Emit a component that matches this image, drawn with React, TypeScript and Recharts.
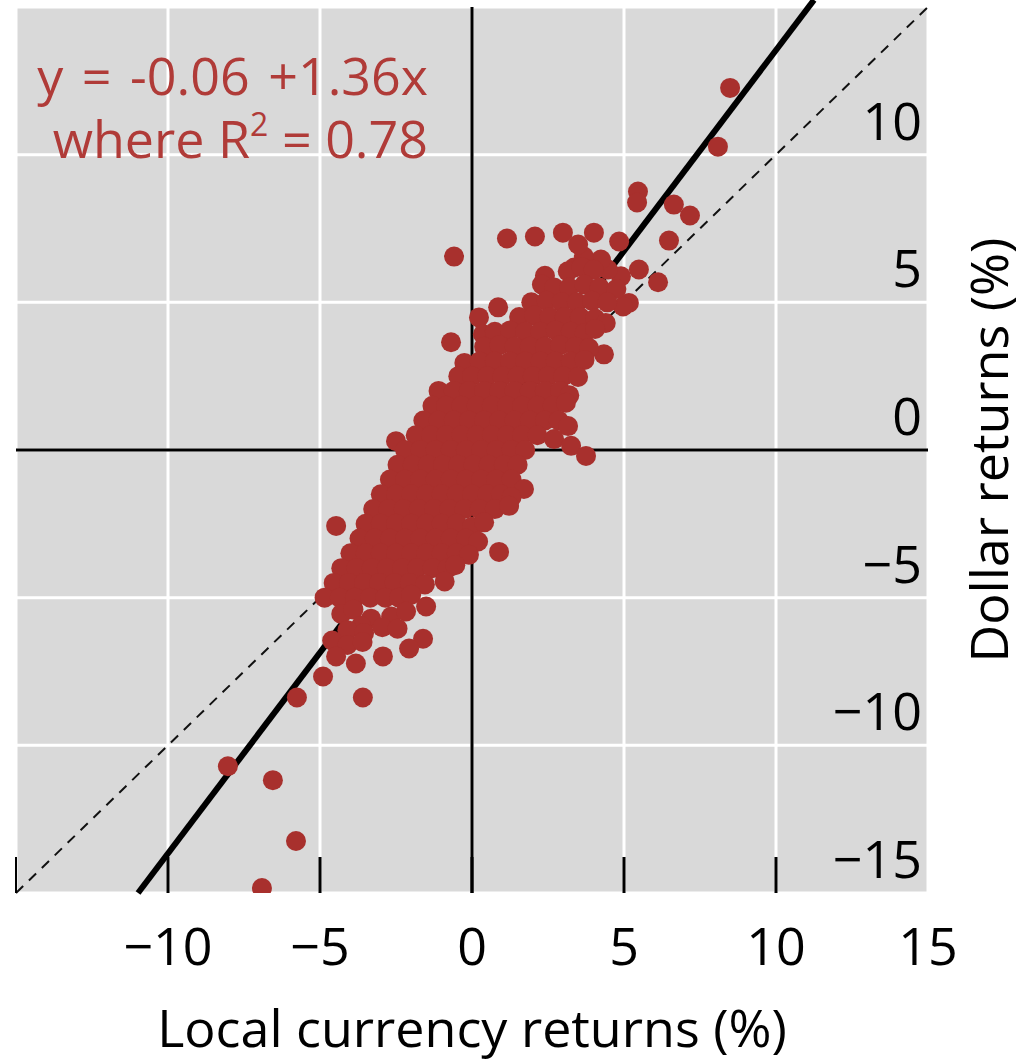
import { ScatterChart, Scatter, XAxis, YAxis, CartesianGrid, ReferenceLine } from "recharts";

// monthly returns: [local currency %, dollar %]
const upperTail: [number, number][] = [
  [8.49, 12.26], [8.09, 10.27], [5.46, 8.75], [5.43, 8.38], [6.64, 8.31], [7.17, 7.94],
  [6.48, 7.09], [6.12, 5.68], [5.16, 4.98], [4.97, 4.86], [5.49, 6.11], [4.9, 5.88],
  [4.47, 6.11], [4.24, 6.45], [3.68, 6.55], [3.36, 6.18], [3.91, 6.11], [4.84, 7.06],
  [4.01, 7.36], [3.49, 6.96], [2.99, 7.36], [2.07, 7.23], [1.15, 7.16], [-0.59, 6.55],
  [4.34, 3.24], [2.4, 5.9], [3.15, 6.05], [3.6, 6.2], [4.0, 6.1],
];

const coreUpper: [number, number][] = [
  [2.3, 5.6], [2.7, 5.5], [3.2, 5.5], [3.7, 5.6], [4.2, 5.5], [4.75, 5.45],
  [1.95, 5.0], [2.45, 5.05], [2.95, 5.0], [3.45, 5.0], [3.95, 5.05], [4.45, 5.0],
  [0.23, 4.49], [0.86, 4.83], [1.55, 4.5], [2.05, 4.55], [2.55, 4.5], [3.05, 4.5], [3.55, 4.5], [4.05, 4.45], [4.4, 4.3],
  [0.36, 3.92], [0.75, 4.0], [1.25, 4.05], [1.75, 4.0], [2.25, 4.0], [2.75, 4.05], [3.25, 4.0], [3.7, 3.95], [4.05, 4.1],
  [-0.69, 3.65], [0.4, 3.5], [0.9, 3.55], [1.4, 3.5], [1.9, 3.5], [2.4, 3.5], [2.9, 3.55], [3.4, 3.5], [3.85, 3.45],
  [-0.25, 2.95], [0.25, 3.0], [0.75, 3.0], [1.25, 3.0], [1.75, 3.0], [2.25, 3.0], [2.75, 3.0], [3.25, 3.0], [3.7, 3.05],
  [-0.45, 2.5], [0.0, 2.5], [0.5, 2.5], [1.0, 2.5], [1.5, 2.5], [2.0, 2.5], [2.5, 2.5], [3.0, 2.5], [3.49, 2.47],
  [-1.1, 2.0], [-0.6, 2.0], [-0.1, 2.0], [0.4, 2.0], [0.9, 2.0], [1.4, 2.0], [1.9, 2.0], [2.4, 2.0], [2.9, 2.0], [3.2, 1.85],
  [-1.3, 1.5], [-0.85, 1.5], [-0.35, 1.5], [0.15, 1.5], [0.65, 1.5], [1.15, 1.5], [1.65, 1.5], [2.15, 1.5], [2.65, 1.5], [3.09, 1.6],
  [-1.6, 1.0], [-1.1, 1.0], [-0.6, 1.0], [-0.1, 1.0], [0.4, 1.0], [0.9, 1.0], [1.4, 1.0], [1.9, 1.0], [2.4, 1.0], [2.85, 1.0], [3.16, 0.81],
  [-1.85, 0.5], [-1.35, 0.5], [-0.85, 0.5], [-0.35, 0.5], [0.15, 0.5], [0.65, 0.5], [1.15, 0.5], [1.65, 0.5], [2.15, 0.5], [2.7, 0.37], [-2.5, 0.3],
];

const coreLower: [number, number][] = [
  [-2.2, 0.0], [-1.7, 0.0], [-1.2, 0.0], [-0.7, 0.0], [-0.2, 0.0], [0.3, 0.0], [0.8, 0.0], [1.3, 0.0], [1.75, 0.0], [3.26, 0.14], [3.75, -0.2],
  [-2.45, -0.5], [-1.95, -0.5], [-1.45, -0.5], [-0.95, -0.5], [-0.45, -0.5], [0.05, -0.5], [0.55, -0.5], [1.05, -0.5], [1.5, -0.5],
  [-2.7, -1.0], [-2.2, -1.0], [-1.7, -1.0], [-1.2, -1.0], [-0.7, -1.0], [-0.2, -1.0], [0.3, -1.0], [0.8, -1.0], [1.3, -1.0], [1.71, -1.32],
  [-3.0, -1.5], [-2.5, -1.5], [-2.0, -1.5], [-1.5, -1.5], [-1.0, -1.5], [-0.5, -1.5], [0.0, -1.5], [0.5, -1.5], [0.95, -1.5], [1.3, -1.6],
  [-3.25, -2.0], [-2.75, -2.0], [-2.25, -2.0], [-1.75, -2.0], [-1.25, -2.0], [-0.75, -2.0], [-0.25, -2.0], [0.25, -2.0], [0.75, -2.0], [1.22, -1.89],
  [-4.47, -2.57], [-3.5, -2.5], [-3.0, -2.5], [-2.5, -2.5], [-2.0, -2.5], [-1.5, -2.5], [-1.0, -2.5], [-0.5, -2.5], [0.0, -2.6], [0.4, -2.45],
  [-3.7, -3.0], [-3.2, -3.0], [-2.7, -3.0], [-2.2, -3.0], [-1.7, -3.0], [-1.2, -3.0], [-0.7, -3.0], [-0.2, -3.0], [0.2, -3.1],
  [-4.0, -3.5], [-3.5, -3.5], [-3.0, -3.5], [-2.5, -3.5], [-2.0, -3.5], [-1.5, -3.5], [-1.0, -3.5], [-0.5, -3.5], [-0.1, -3.55], [0.89, -3.45],
  [-4.3, -4.0], [-3.8, -4.0], [-3.3, -4.0], [-2.8, -4.0], [-2.3, -4.0], [-1.8, -4.0], [-1.3, -4.0], [-0.8, -4.0], [-0.55, -3.9],
  [-4.55, -4.5], [-4.05, -4.5], [-3.55, -4.5], [-3.05, -4.5], [-2.55, -4.5], [-2.05, -4.5], [-1.55, -4.55], [-0.9, -4.45],
  [-4.85, -5.0], [-4.35, -5.0], [-3.85, -5.0], [-3.35, -5.0], [-2.85, -5.0], [-2.4, -5.0], [-2.0, -4.9], [-1.51, -5.3],
  [-4.3, -5.55], [-3.9, -5.4], [-3.32, -5.71], [-2.66, -5.64], [-2.17, -5.47], [-3.65, -5.95],
  [-4.1, -6.1], [-3.55, -6.2], [-2.95, -6.0], [-2.45, -6.05],
  [-4.6, -6.45], [-4.1, -6.6], [-3.6, -6.5], [-1.61, -6.39], [-2.07, -6.72],
  [-4.47, -6.99], [-3.82, -7.23], [-2.93, -6.99],
];

const lowerTail: [number, number][] = [
  [-4.9, -7.67], [-5.76, -8.38], [-3.59, -8.38], [-8.03, -10.71], [-6.55, -11.18], [-5.79, -13.24], [-6.91, -14.83],
];

const xTicks = [-15, -10, -5, 0, 5, 10, 15];
const yTicks = [-15, -10, -5, 0, 5, 10, 15];

// fitted regression
const intercept = -0.06;
const slope = 1.36;

const points = [...upperTail, ...coreUpper, ...coreLower, ...lowerTail].map(([x, y]) => ({ x, y }));
const fitLine = [
  { x: (-15 - intercept) / slope, y: -15 },
  { x: (15.24 - intercept) / slope, y: 15.24 },
];

const FONT = "'Open Sans', sans-serif";
const DOT = "#a8302d";
const fmt = (v: number) => (v < 0 ? `\u2212${Math.abs(v)}` : `${v}`);

function XTick(props: any) {
  const { x, y, payload } = props;
  const v = payload.value;
  return (
    <g>
      {v !== 15 && (
        <line x1={x} x2={x} y1={y - 36} y2={y} stroke="#000" strokeWidth={v === -15 ? 2 : 3} />
      )}
      {v !== -15 && (
        <text x={x} y={y + 72} textAnchor="middle" fontSize={52} fontFamily={FONT} fill="#000">
          {fmt(v)}
        </text>
      )}
    </g>
  );
}

function YTick(props: any) {
  const { x, y, payload } = props;
  const v = payload.value;
  if (v === 15) return null;
  return (
    <text x={x - 6} y={y - 15} textAnchor="end" fontSize={52} fontFamily={FONT} fill="#000">
      {fmt(v)}
    </text>
  );
}

function YTitle(props: any) {
  const { viewBox } = props;
  const cx = viewBox.x + viewBox.width - 17;
  const cy = viewBox.y + viewBox.height / 2;
  return (
    <text
      x={cx}
      y={cy}
      transform={`rotate(-90 ${cx} ${cy})`}
      textAnchor="middle"
      fontSize={52}
      fontFamily={FONT}
      fill="#000"
    >
      Dollar returns (%)
    </text>
  );
}

export default function App() {
  return (
    <div style={{ position: "absolute", left: 0, top: 0, width: 1025, height: 1061, background: "#fff" }}>
      <ScatterChart width={1025} height={1061} margin={{ top: 7, right: 0, bottom: 0, left: 16 }}>
        <CartesianGrid fill="#d9d9d9" fillOpacity={1} stroke="#fff" strokeWidth={3} />
        <XAxis
          type="number"
          dataKey="x"
          domain={[-15, 15]}
          ticks={xTicks}
          interval={0}
          axisLine={false}
          tickLine={false}
          tickSize={0}
          tickMargin={0}
          height={168}
          tick={<XTick />}
          allowDataOverflow
          label={{
            value: "Local currency returns (%)",
            position: "insideBottom",
            offset: 14,
            fontSize: 52,
            fontFamily: FONT,
            fill: "#000",
          }}
        />
        <YAxis
          type="number"
          dataKey="y"
          orientation="right"
          domain={[-15, 15]}
          ticks={yTicks}
          interval={0}
          axisLine={false}
          tickLine={false}
          tickSize={0}
          tickMargin={0}
          width={97}
          tick={<YTick />}
          allowDataOverflow
          label={{ content: <YTitle /> }}
        />
        <ReferenceLine x={0} stroke="#000" strokeWidth={3} />
        <ReferenceLine y={0} stroke="#000" strokeWidth={3} />
        <ReferenceLine
          segment={[{ x: -15, y: -15 }, { x: 15, y: 15 }]}
          stroke="#111"
          strokeWidth={2}
          strokeDasharray="10 8"
        />
        <Scatter
          data={points}
          isAnimationActive={false}
          shape={(p: any) => <circle cx={p.cx} cy={p.cy} r={10} fill={DOT} />}
        />
        <ReferenceLine
          segment={fitLine}
          stroke="#000"
          strokeWidth={6}
          ifOverflow="visible"
        />
      </ScatterChart>
      <svg width={1025} height={200} style={{ position: "absolute", left: 0, top: 0, pointerEvents: "none" }}>
        <g fontFamily={FONT} fontSize={52} fill="#b03b38" textAnchor="end">
          <text x={428} y={95} wordSpacing={5}>y = -0.06 +1.36x</text>
          <text x={428} y={158}>
            where R<tspan dy={-22} fontSize={32}>2</tspan>
            <tspan dy={22}> = 0.78</tspan>
          </text>
        </g>
      </svg>
    </div>
  );
}
